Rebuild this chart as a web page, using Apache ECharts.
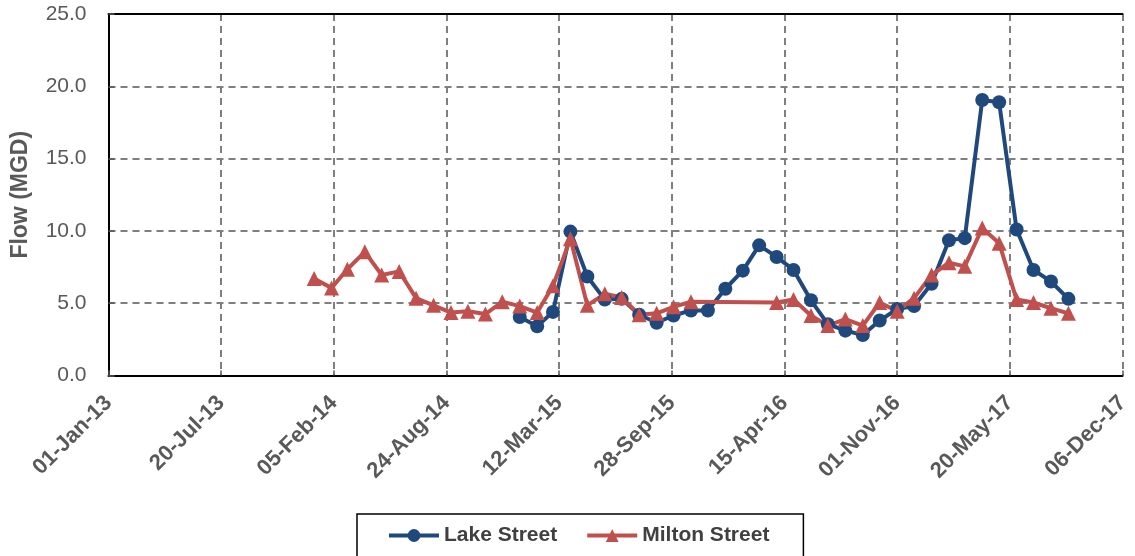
<!DOCTYPE html>
<html>
<head>
<meta charset="utf-8">
<script src="https://cdn.jsdelivr.net/npm/echarts@6/dist/echarts.min.js"></script>
<style>
  html, body { margin: 0; padding: 0; background: #fff; }
  #chart { width: 1135px; height: 556px; }
</style>
</head>
<body>
<div id="chart"></div>
<script>
// Monthly sample dates (first of month), Jan 2014 – Sep 2017
const months = [
  '2014-01-01','2014-02-01','2014-03-01','2014-04-01','2014-05-01','2014-06-01',
  '2014-07-01','2014-08-01','2014-09-01','2014-10-01','2014-11-01','2014-12-01',
  '2015-01-01','2015-02-01','2015-03-01','2015-04-01','2015-05-01','2015-06-01',
  '2015-07-01','2015-08-01','2015-09-01','2015-10-01','2015-11-01','2015-12-01',
  '2016-01-01','2016-02-01','2016-03-01','2016-04-01','2016-05-01','2016-06-01',
  '2016-07-01','2016-08-01','2016-09-01','2016-10-01','2016-11-01','2016-12-01',
  '2017-01-01','2017-02-01','2017-03-01','2017-04-01','2017-05-01','2017-06-01',
  '2017-07-01','2017-08-01','2017-09-01'
];

// Flow in MGD; null = no reading that month
const lakeStreet = [
  null, null, null, null, null, null, null, null, null, null, null, null,
  4.05, 3.4, 4.4, 9.95, 6.85, 5.25, 5.3, 4.2, 3.65, 4.15, 4.5, 4.5,
  6.0, 7.25, 9.0, 8.2, 7.3, 5.2, 3.55, 3.1, 2.8, 3.8, 4.6, 4.8,
  6.35, 9.35, 9.5, 19.05, 18.9, 10.1, 7.3, 6.5, 5.3
];
const miltonStreet = [
  6.7, 6.05, 7.35, 8.55, 6.95, 7.2, 5.35, 4.85, 4.35, 4.45, 4.25, 5.1,
  4.8, 4.35, 6.2, 9.45, 4.85, 5.65, 5.4, 4.2, 4.3, 4.75, 5.1, null,
  null, null, null, 5.05, 5.25, 4.15, 3.45, 3.9, 3.45, 5.05, 4.45, 5.35,
  6.95, 7.8, 7.55, 10.2, 9.15, 5.25, 5.05, 4.65, 4.3
];

// Date axis: days counted from the axis start, ticks every 200 days
const axisStart = '2013-01-01';
const axisSpanDays = 1800;   // to 06-Dec-17
const tickDays = 200;
const yTicks = [0, 5, 10, 15, 20, 25];

const MS_DAY = 86400000;
const startMs = Date.parse(axisStart + 'T00:00:00Z');
const dayOffset = s => Math.round((Date.parse(s + 'T00:00:00Z') - startMs) / MS_DAY);
const MON = ['Jan','Feb','Mar','Apr','May','Jun','Jul','Aug','Sep','Oct','Nov','Dec'];
const fmtDay = v => {
  const d = new Date(startMs + v * MS_DAY);
  const dd = String(d.getUTCDate()).padStart(2, '0');
  const yy = String(d.getUTCFullYear() % 100).padStart(2, '0');
  return dd + '-' + MON[d.getUTCMonth()] + '-' + yy;
};
const pairs = vals => months.map((m, i) => [dayOffset(m), vals[i]]);

const FONT = '"Liberation Sans", Arial, sans-serif';
const GRID_LINE = { show: true, lineStyle: { color: '#7f7f7f', width: 2, type: [7, 5] } };

const chart = echarts.init(document.getElementById('chart'), null, { renderer: 'canvas' });
chart.setOption({
  animation: false,
  backgroundColor: '#ffffff',
  grid: { left: 108.5, right: 12.5, top: 14, bottom: 180.5, containLabel: false },
  legend: {
    left: 357, top: 514,
    padding: [11, 34, 24, 30],
    borderColor: '#000', borderWidth: 1.5,
    itemWidth: 50, itemHeight: 16, itemGap: 28,
    lineStyle: { width: 4 },
    textStyle: { fontFamily: FONT, fontWeight: 'bold', fontSize: 21, color: '#404040' },
    data: ['Lake Street', 'Milton Street']
  },
  xAxis: [{
    type: 'value',
    min: 0, max: axisSpanDays, interval: tickDays,
    axisLine: { show: true, lineStyle: { color: '#000', width: 2 } },
    axisTick: { show: true, inside: true, length: 5, lineStyle: { color: '#595959', width: 1.5 } },
    splitLine: GRID_LINE,
    axisLabel: {
      rotate: 45, margin: 24,
      fontFamily: FONT, fontWeight: 'bold', fontSize: 22, color: '#595959',
      formatter: fmtDay
    }
  }, {
    type: 'value', position: 'top',
    min: 0, max: axisSpanDays, interval: tickDays,
    axisLine: { show: true, lineStyle: { color: '#000', width: 2 } },
    axisTick: { show: false }, axisLabel: { show: false }, splitLine: { show: false }
  }],
  yAxis: {
    type: 'value',
    min: yTicks[0], max: yTicks[yTicks.length - 1], interval: yTicks[1] - yTicks[0],
    name: 'Flow (MGD)', nameLocation: 'middle', nameGap: 76, nameRotate: 90,
    nameTextStyle: { fontFamily: FONT, fontWeight: 'bold', fontSize: 23, color: '#595959' },
    axisLine: { show: true, lineStyle: { color: '#000', width: 2 } },
    axisTick: { show: true, inside: true, length: 6, lineStyle: { color: '#595959', width: 1.5 } },
    splitLine: GRID_LINE,
    axisLabel: {
      margin: 22, fontFamily: FONT, fontSize: 21, color: '#595959',
      formatter: v => v.toFixed(1)
    }
  },
  series: [{
    name: 'Lake Street', type: 'line',
    data: pairs(lakeStreet), connectNulls: true,
    symbol: 'circle', symbolSize: 14,
    lineStyle: { color: '#1F497D', width: 4 },
    itemStyle: { color: '#1F497D' }
  }, {
    name: 'Milton Street', type: 'line',
    data: pairs(miltonStreet), connectNulls: true,
    symbol: 'triangle', symbolSize: 15,
    lineStyle: { color: '#C0504D', width: 4 },
    itemStyle: { color: '#C0504D' }
  }]
});
</script>
</body>
</html>
